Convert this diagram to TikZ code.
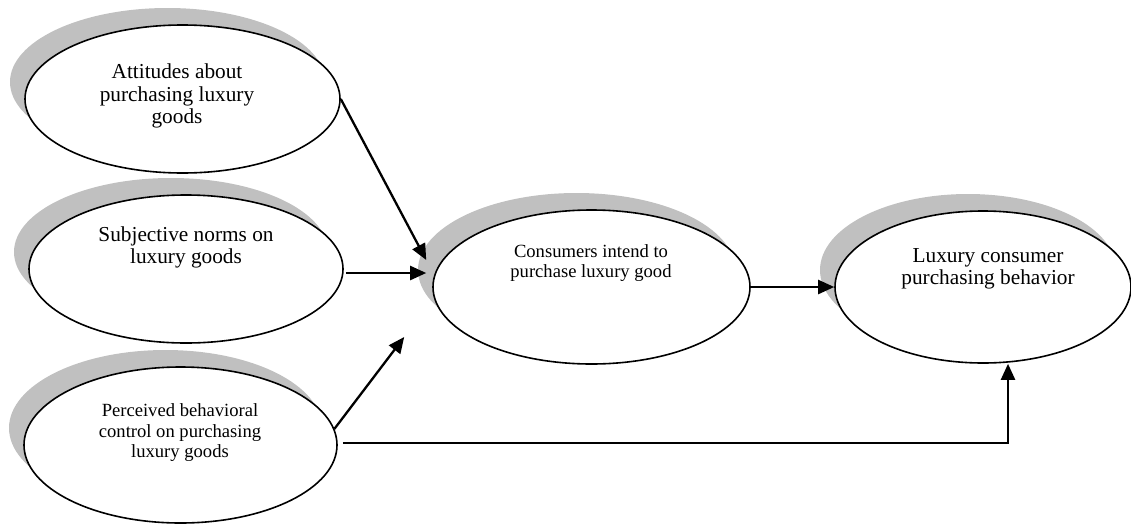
\documentclass[tikz,border=0pt]{standalone}
\usepackage{fontspec}
\setmainfont{Liberation Serif}
\usetikzlibrary{shapes.geometric,arrows.meta,calc}
\definecolor{shadowgray}{HTML}{C0C0C0}
\tikzset{
  shadowell/.style={ellipse, fill=shadowgray, draw=none, inner sep=0pt},
  ell/.style={ellipse, draw=black, fill=white, line width=1.6pt, inner sep=0pt},
  biglbl/.style={align=center, inner sep=0pt, font=\fontsize{21.3}{22.5}\selectfont},
  smalllbl/.style={align=center, inner sep=0pt, font=\fontsize{18.6}{20.5}\selectfont},
  conn/.style={line width=2.3pt, -{Triangle[length=16pt,width=14pt]}},
}
\newcommand\myshadedell[5]{%
  \node[shadowell, minimum width=#4pt, minimum height=#5pt] (#1s) at (#2-15,#3-17) {};
  \node[ell, minimum width=#4pt, minimum height=#5pt] (#1) at (#2,#3) {};}
\begin{document}
\begin{tikzpicture}[x=1pt,y=-1pt]
\useasboundingbox (0,0) rectangle (1131,525);
\myshadedell{e1}{182.5}{99}{315}{148}
\myshadedell{e2}{186}{269}{314}{148}
\myshadedell{e3}{180.5}{445}{313}{156}
\myshadedell{e4}{591.5}{287}{317}{154}
\myshadedell{e5}{983}{287}{296}{152}

\node[biglbl] (t1) at (177,96) {Attitudes about\\purchasing luxury\\goods};
\node[biglbl] (t2) at (186,247.6) {Subjective norms on\\luxury goods};
\node[smalllbl] (t3) at (180,433) {Perceived behavioral\\control on purchasing\\luxury goods};
\node[smalllbl] (t4) at (591,263) {Consumers intend to\\purchase luxury good};
\node[biglbl] (t5) at (988,268.6) {Luxury consumer\\purchasing behavior};

\coordinate (in1) at ($(e4.west)+(-6,-27)$);
\coordinate (in2) at ($(e4.west)+(-6,-14)$);
\coordinate (in3) at ($(e4.west)+(-28,50)$);
\coordinate (in5) at ($(e5.south)+(25,0)$);

\draw[conn] (e1.east) -- (in1);
\draw[conn] ($(e2.east)+(2,4)$) -- (in2);
\draw[conn] (e3.6) -- (in3);
\draw[conn] (e4.east) -- (e5.west);
\draw[conn] ($(e3.east)+(5,-2)$) -| (in5);
\end{tikzpicture}
\end{document}
